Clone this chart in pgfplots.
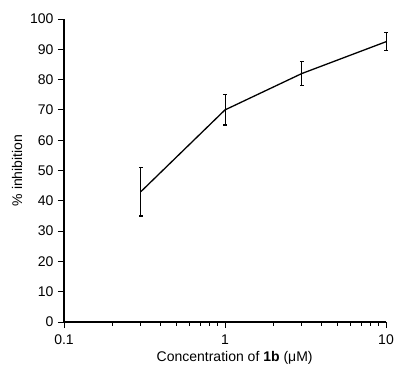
\documentclass[border=0pt]{standalone}
\usepackage{fontspec}
\setmainfont{Liberation Sans}
\usepackage{pgfplots}
\pgfplotsset{compat=1.18}
\begin{document}
\begin{tikzpicture}
\begin{axis}[
  name=ax,
  scale only axis,
  width=322pt, height=303pt,
  xmode=log, xmin=0.1, xmax=10, ymin=0, ymax=100,
  axis x line*=bottom, axis y line*=left,
  axis line style={line width=1.3pt, -},
  xtick={0.1,1,10}, xticklabels={0.1,1,10},
  ytick={0,10,...,100},
  tick align=outside,
  major tick length=6pt, minor tick length=3.5pt,
  every tick/.style={black, line width=0.9pt},
  log ticks with fixed point,
  /pgf/number format/assume math mode=true,
  tick label style={font=\fontsize{14}{16}\selectfont},
  xticklabel style={anchor=center, yshift=-12pt},
  yticklabel style={xshift=-1pt},
  xlabel={Concentration of \textbf{1b} (μM)},
  ylabel={\% inhibition},
  label style={font=\fontsize{14}{16}\selectfont},
  xlabel style={at={(rel axis cs:0.53,0)}, anchor=center, yshift=-36pt},
  ylabel style={at={(rel axis cs:0,0.5)}, anchor=center, yshift=47pt},
  clip=false,
]
\addplot[black, line width=1.3pt, mark=none,
  error bars/.cd, y dir=both, y explicit,
  error mark options={line width=1.3pt, mark size=2pt, rotate=90},
  error bar style={line width=0.9pt}]
  coordinates {
  (0.3,43) +- (0,8)
  (1,70) +- (0,5)
  (3,82) +- (0,4)
  (10,92.5) +- (0,3)
  };
\end{axis}
\pgfresetboundingbox
\path (ax.south west) ++(-64pt,-43pt) rectangle ++(394pt,365pt);
\end{tikzpicture}
\end{document}
